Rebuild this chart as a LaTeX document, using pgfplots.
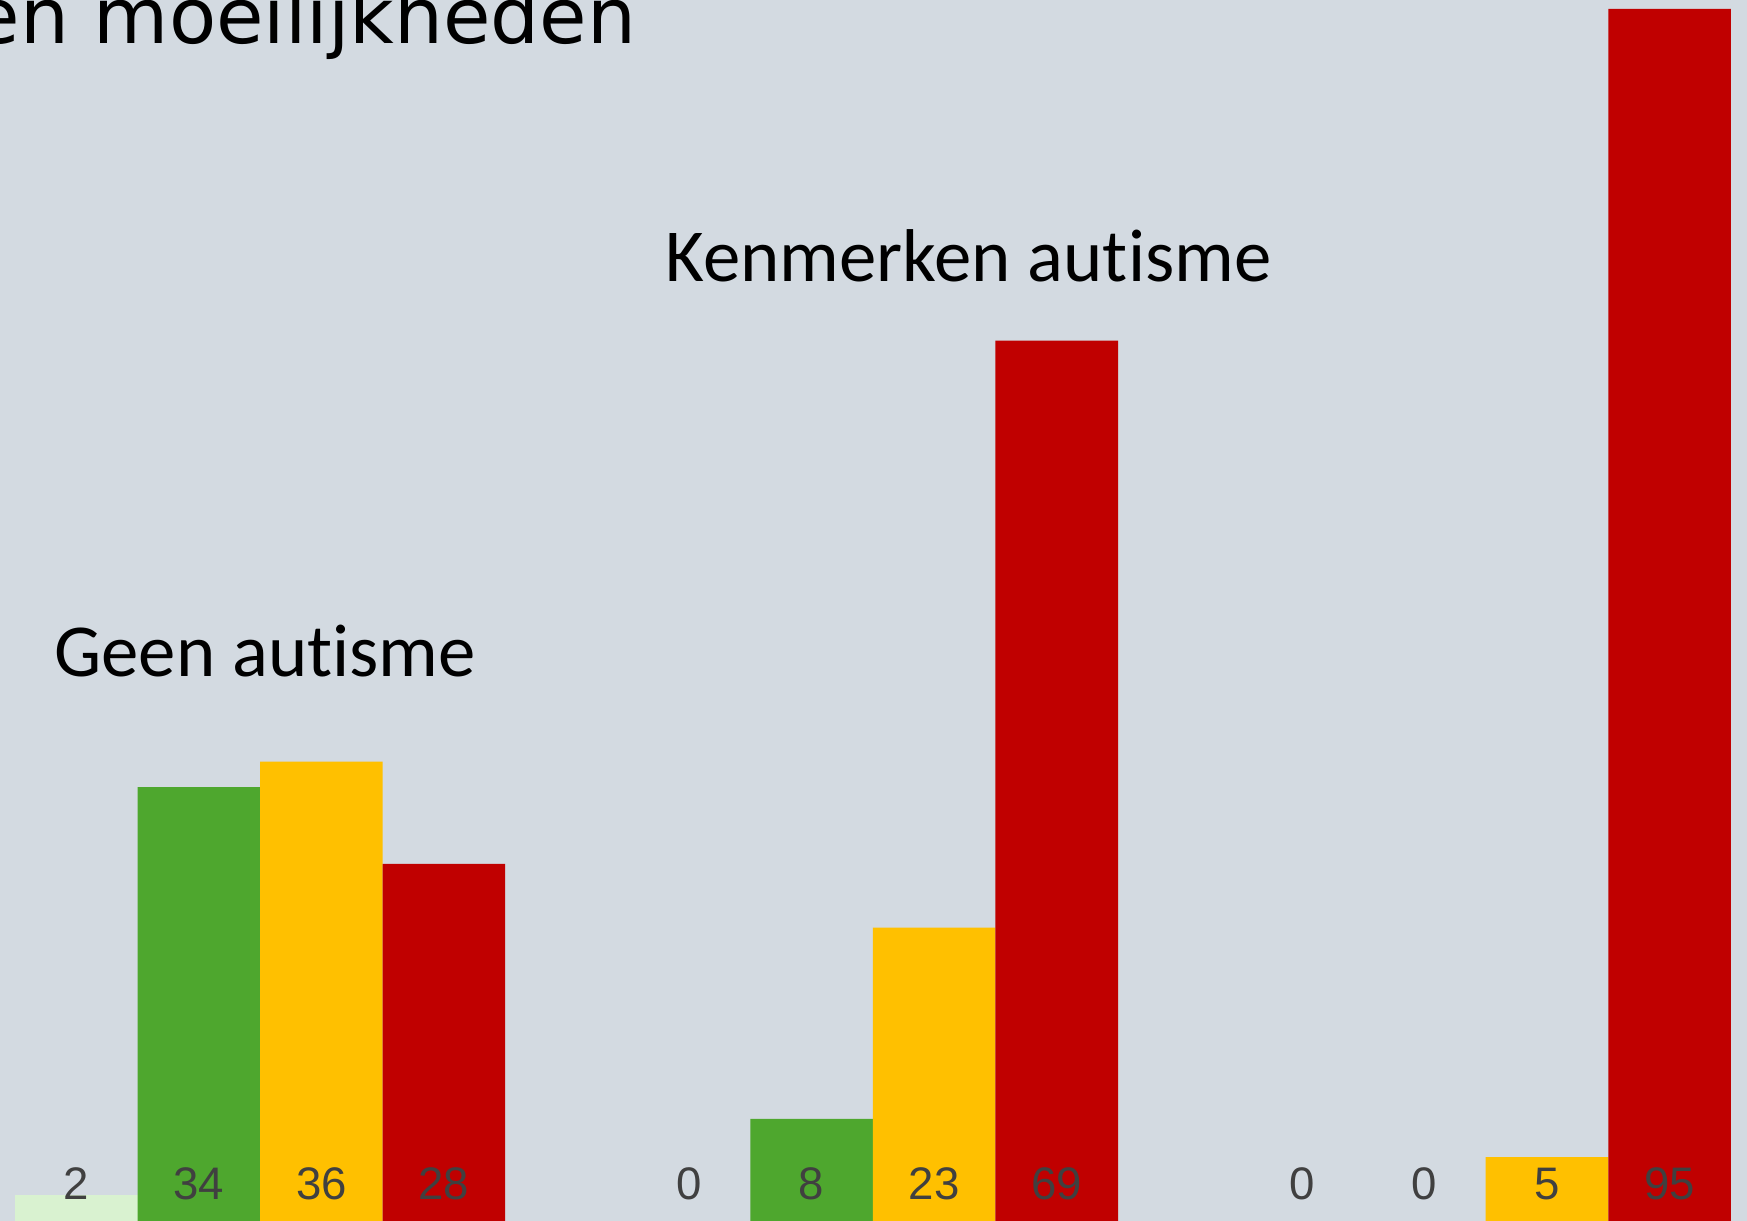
\documentclass[border=0pt]{standalone}
\usepackage{pgfplots}
\pgfplotsset{compat=1.18}
\usepackage{fontspec}
\setmainfont{Carlito}[Ligatures=NoCommon]
\newfontfamily\valfont{Liberation Sans}
\newfontfamily\titlefont{DejaVu Sans}
\definecolor{bg}{HTML}{D3DAE1}
\definecolor{lgreen}{HTML}{D9F2D0}
\definecolor{mgreen}{HTML}{4EA72E}
\definecolor{myellow}{HTML}{FFC000}
\definecolor{mred}{HTML}{C00000}
\definecolor{valgray}{HTML}{404040}
\begin{document}
\begin{tikzpicture}
\fill[bg] (0,0) rectangle (436.75pt,305.25pt);
\clip (0,0) rectangle (436.75pt,305.25pt);
\begin{axis}[
  at={(0,0)}, anchor=south west,
  scale only axis, width=436.75pt, height=305.25pt,
  xmin=-0.6225, xmax=13.632, ymin=0, ymax=95.705,
  hide axis, clip=false,
]
\addplot[ybar, bar width=1, bar shift=0pt, fill=lgreen, draw=none] coordinates {(0,2)};
\addplot[ybar, bar width=1, bar shift=0pt, fill=mgreen, draw=none] coordinates {(1,34) (6,8)};
\addplot[ybar, bar width=1, bar shift=0pt, fill=myellow, draw=none] coordinates {(2,36) (7,23) (12,5)};
\addplot[ybar, bar width=1, bar shift=0pt, fill=mred, draw=none] coordinates {(3,28) (8,69) (13,95)};
\addplot[draw=none, mark=none, nodes near coords, point meta=explicit symbolic,
  every node near coord/.append style={anchor=base, inner sep=0pt, font=\valfont\fontsize{11.4}{13}\selectfont, text=valgray}]
  coordinates {(0,1.72) [2] (1,1.72) [34] (2,1.72) [36] (3,1.72) [28]
               (5,1.72) [0] (6,1.72) [8] (7,1.72) [23] (8,1.72) [69]
               (10,1.72) [0] (11,1.72) [0] (12,1.72) [5] (13,1.72) [95]};
\node[anchor=base, inner sep=0pt, font=\fontsize{18.7}{22}\selectfont] at (axis cs:1.54,42.7) {Geen autisme};
\node[anchor=base, inner sep=0pt, font=\fontsize{18.7}{22}\selectfont] at (axis cs:7.28,73.6) {Kenmerken autisme};
\node[anchor=base east, inner sep=0pt, font=\titlefont\fontsize{19.3}{24}\selectfont] at (axis cs:4.575,92.33) {Problemen en moeilijkheden};
\end{axis}
\end{tikzpicture}
\end{document}
